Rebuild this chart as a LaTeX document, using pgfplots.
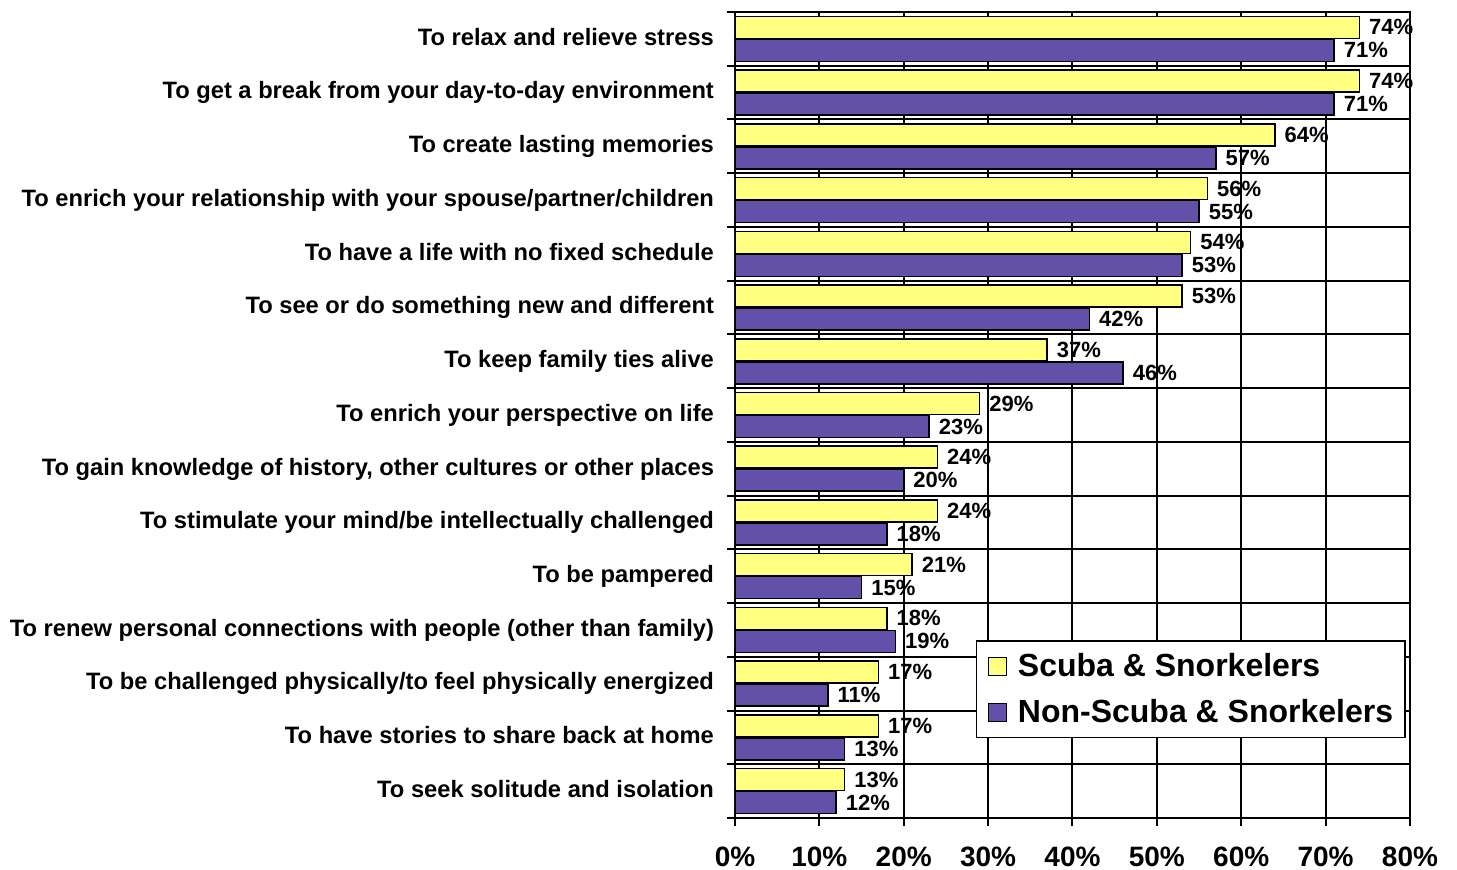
\documentclass[border=0pt]{standalone}
\usepackage{fontspec}
\setmainfont{Liberation Sans}
\usepackage{pgfplots}
\pgfplotsset{compat=1.18}
\definecolor{scuba}{RGB}{255,255,128}
\definecolor{nonscuba}{RGB}{99,80,168}
\begin{document}
\begin{tikzpicture}
\path[use as bounding box] (-367.5pt,-26pt) rectangle (361pt,409pt);
\begin{axis}[
  at={(0,0)}, anchor=south west,
  scale only axis, width=337.5pt, height=403pt,
  xmin=0, xmax=80, ymin=-0.5, ymax=14.5,
  xbar, bar width=11pt,
  /pgf/number format/assume math mode=true,
  axis line style={line width=1pt, black},
  tick align=outside,
  tick pos=left,
  major tick length=4pt,
  xtick={0,10,...,80},
  xticklabels={0\%,10\%,20\%,30\%,40\%,50\%,60\%,70\%,80\%},
  xticklabel style={font=\fontsize{14}{16}\selectfont\bfseries, yshift=-7pt},
  xmajorgrids,
  ytick={-0.5,0.5,...,14.5},
  yticklabels={},
  ymajorgrids,
  major grid style={black, line width=1pt},
  every tick/.style={black, line width=1pt},
  extra y ticks={0,1,...,14},
  extra y tick labels={To seek solitude and isolation,
    To have stories to share back at home,
    To be challenged physically/to feel physically energized,
    To renew personal connections with people (other than family),
    To be pampered,
    To stimulate your mind/be intellectually challenged,
    {To gain knowledge of history, other cultures or other places},
    To enrich your perspective on life,
    To keep family ties alive,
    To see or do something new and different,
    To have a life with no fixed schedule,
    To enrich your relationship with your spouse/partner/children,
    To create lasting memories,
    To get a break from your day-to-day environment,
    To relax and relieve stress},
  extra y tick style={major tick length=0pt, grid=none,
    yticklabel style={font=\fontsize{11.85}{14}\selectfont\bfseries, xshift=-7pt,
      text height=1.6ex, text depth=0.4ex}},
  nodes near coords={\pgfmathprintnumber{\pgfplotspointmeta}\%},
  point meta=x,
  every node near coord/.append style={font=\fontsize{11}{13}\selectfont\bfseries, anchor=west, xshift=2.5pt, inner sep=2pt, black},
  legend style={at={(0.994,0.099)}, anchor=south east, draw=black, line width=0.8pt,
    font=\fontsize{16}{19}\selectfont\bfseries, row sep=6pt, inner xsep=4pt, inner ysep=4pt},
  legend cell align=left,
  mylegend/.style={legend image code/.code={\path (0pt,0pt) (14pt,0pt);\draw[##1,draw=black,line width=0.6pt] (1.5pt,-4.5pt) rectangle (10.5pt,4.5pt);}},
]
\addplot[fill=scuba, draw=black, line width=0.75pt, bar shift=5.75pt, mylegend] coordinates {
 (74,14) (74,13) (64,12) (56,11) (54,10) (53,9) (37,8) (29,7) (24,6) (24,5) (21,4) (18,3) (17,2) (17,1) (13,0)};
\addplot[fill=nonscuba, draw=black, line width=0.75pt, bar shift=-5.75pt, mylegend] coordinates {
 (71,14) (71,13) (57,12) (55,11) (53,10) (42,9) (46,8) (23,7) (20,6) (18,5) (15,4) (19,3) (11,2) (13,1) (12,0)};
\legend{Scuba \& Snorkelers, Non-Scuba \& Snorkelers}
\end{axis}
\end{tikzpicture}
\end{document}
